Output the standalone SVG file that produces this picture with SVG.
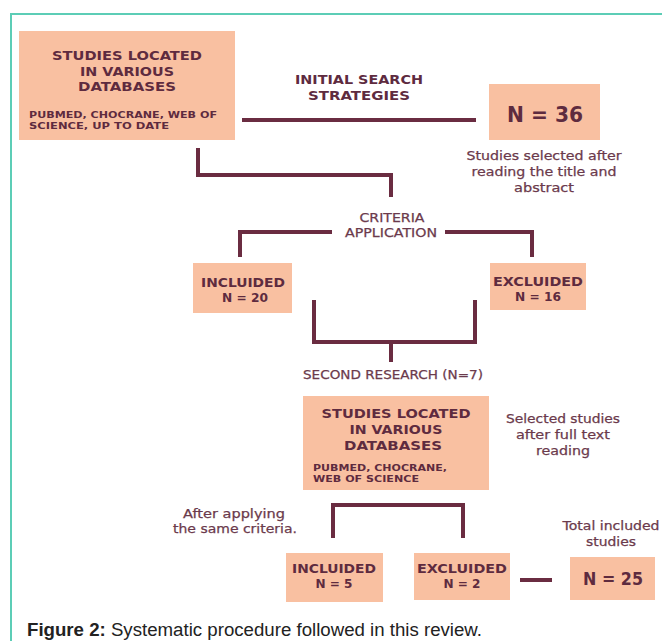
<svg xmlns="http://www.w3.org/2000/svg" width="662" height="641" viewBox="0 0 662 641">
<style>
.box{fill:#f9c0a1}
.h{font-family:"DejaVu Sans","Open Sans",sans-serif;font-weight:bold;fill:#5e2b3f;text-anchor:middle}
.s{font-family:"DejaVu Sans","Open Sans",sans-serif;font-weight:bold;fill:#5e2b3f;font-size:9.3px}
.b{font-family:"DejaVu Sans","Open Sans",sans-serif;fill:#6b3a4c;text-anchor:middle;font-size:12.5px;stroke:#6b3a4c;stroke-width:0.25}
.ln{fill:none;stroke:#6a2c41;stroke-width:4;stroke-linecap:butt;stroke-linejoin:miter}
.cap{font-family:"Liberation Sans",Arial,sans-serif;font-size:18px;fill:#222}
</style>
<rect width="662" height="641" fill="#ffffff"/>
<path d="M11,641 V14 H662" fill="none" stroke="#5ccdb6" stroke-width="2"/>

<g id="connectors">
<path class="ln" d="M242,120 H476"/>
<path class="ln" d="M198,148 V175 H391 V197"/>
<path class="ln" d="M332,232 H240 V257"/>
<path class="ln" d="M445,232 H532 V257"/>
<path class="ln" d="M314,300 V342 H475 V300"/>
<path class="ln" d="M391,342 V362"/>
<path class="ln" d="M333,538 V505 H463 V538"/>
<path class="ln" d="M520,580 H552" stroke-width="5"/>
</g>

<g id="n-studies1">
<rect class="box" x="19" y="31" width="216" height="109"/>
<text class="h" font-size="13" x="127" y="60" textLength="150" lengthAdjust="spacingAndGlyphs">STUDIES LOCATED</text>
<text class="h" font-size="13" x="127" y="75.5" textLength="94" lengthAdjust="spacingAndGlyphs">IN VARIOUS</text>
<text class="h" font-size="13" x="127" y="91" textLength="98" lengthAdjust="spacingAndGlyphs">DATABASES</text>
<text class="s" x="29" y="118" textLength="188" lengthAdjust="spacingAndGlyphs">PUBMED, CHOCRANE, WEB OF</text>
<text class="s" x="29" y="129" textLength="140" lengthAdjust="spacingAndGlyphs">SCIENCE, UP TO DATE</text>
</g>

<g id="n-initial">
<text class="h" font-size="13" x="359" y="84" textLength="128" lengthAdjust="spacingAndGlyphs">INITIAL SEARCH</text>
<text class="h" font-size="13" x="359" y="100" textLength="102" lengthAdjust="spacingAndGlyphs">STRATEGIES</text>
</g>

<g id="n-36">
<rect class="box" x="489" y="84" width="111" height="56"/>
<text class="h" font-size="21" x="545" y="122" textLength="76" lengthAdjust="spacingAndGlyphs">N = 36</text>
<text class="b" x="544" y="160" textLength="155" lengthAdjust="spacingAndGlyphs">Studies selected after</text>
<text class="b" x="544" y="176" textLength="145" lengthAdjust="spacingAndGlyphs">reading the title and</text>
<text class="b" x="544" y="192" textLength="60" lengthAdjust="spacingAndGlyphs">abstract</text>
</g>

<g id="n-criteria">
<text class="b" x="392" y="222" textLength="65" lengthAdjust="spacingAndGlyphs">CRITERIA</text>
<text class="b" x="391" y="237" textLength="92" lengthAdjust="spacingAndGlyphs">APPLICATION</text>
</g>

<g id="n-incl20">
<rect class="box" x="193" y="263" width="99" height="50"/>
<text class="h" font-size="12.5" x="243" y="287" textLength="84" lengthAdjust="spacingAndGlyphs">INCLUIDED</text>
<text class="h" font-size="12.5" x="245" y="302" textLength="46" lengthAdjust="spacingAndGlyphs">N = 20</text>
</g>

<g id="n-excl16">
<rect class="box" x="490" y="263" width="96" height="47"/>
<text class="h" font-size="12.5" x="538" y="286" textLength="90" lengthAdjust="spacingAndGlyphs">EXCLUIDED</text>
<text class="h" font-size="12.5" x="538" y="301" textLength="46" lengthAdjust="spacingAndGlyphs">N = 16</text>
</g>

<g id="n-second">
<text class="b" x="393" y="379" textLength="180" lengthAdjust="spacingAndGlyphs">SECOND RESEARCH (N=7)</text>
</g>

<g id="n-studies2">
<rect class="box" x="303" y="396" width="186" height="94"/>
<text class="h" font-size="13" x="396" y="418" textLength="149" lengthAdjust="spacingAndGlyphs">STUDIES LOCATED</text>
<text class="h" font-size="13" x="396" y="434" textLength="93" lengthAdjust="spacingAndGlyphs">IN VARIOUS</text>
<text class="h" font-size="13" x="393" y="450" textLength="98" lengthAdjust="spacingAndGlyphs">DATABASES</text>
<text class="s" x="313" y="471" textLength="134" lengthAdjust="spacingAndGlyphs">PUBMED, CHOCRANE,</text>
<text class="s" x="313" y="482" textLength="106" lengthAdjust="spacingAndGlyphs">WEB OF SCIENCE</text>
</g>

<g id="n-selected">
<text class="b" x="563" y="423" textLength="114" lengthAdjust="spacingAndGlyphs">Selected studies</text>
<text class="b" x="563" y="439" textLength="94" lengthAdjust="spacingAndGlyphs">after full text</text>
<text class="b" x="563" y="455" textLength="54" lengthAdjust="spacingAndGlyphs">reading</text>
</g>

<g id="n-after">
<text class="b" x="234" y="518" textLength="102" lengthAdjust="spacingAndGlyphs">After applying</text>
<text class="b" x="235" y="533" textLength="124" lengthAdjust="spacingAndGlyphs">the same criteria.</text>
</g>

<g id="n-total">
<text class="b" x="611" y="530" textLength="97" lengthAdjust="spacingAndGlyphs">Total included</text>
<text class="b" x="611" y="546" textLength="50" lengthAdjust="spacingAndGlyphs">studies</text>
</g>

<g id="n-incl5">
<rect class="box" x="286" y="553" width="97" height="49"/>
<text class="h" font-size="12.5" x="334" y="573" textLength="84" lengthAdjust="spacingAndGlyphs">INCLUIDED</text>
<text class="h" font-size="12.5" x="334" y="588" textLength="37" lengthAdjust="spacingAndGlyphs">N = 5</text>
</g>

<g id="n-excl2">
<rect class="box" x="414" y="553" width="96" height="47"/>
<text class="h" font-size="12.5" x="462" y="573" textLength="90" lengthAdjust="spacingAndGlyphs">EXCLUIDED</text>
<text class="h" font-size="12.5" x="462" y="588" textLength="37" lengthAdjust="spacingAndGlyphs">N = 2</text>
</g>

<g id="n-25">
<rect class="box" x="570" y="557" width="85" height="43"/>
<text class="h" font-size="17" x="613" y="585" textLength="60" lengthAdjust="spacingAndGlyphs">N = 25</text>
</g>

<text class="cap" x="27" y="636" textLength="455" lengthAdjust="spacingAndGlyphs"><tspan font-weight="bold">Figure 2:</tspan> Systematic procedure followed in this review.</text>
</svg>
